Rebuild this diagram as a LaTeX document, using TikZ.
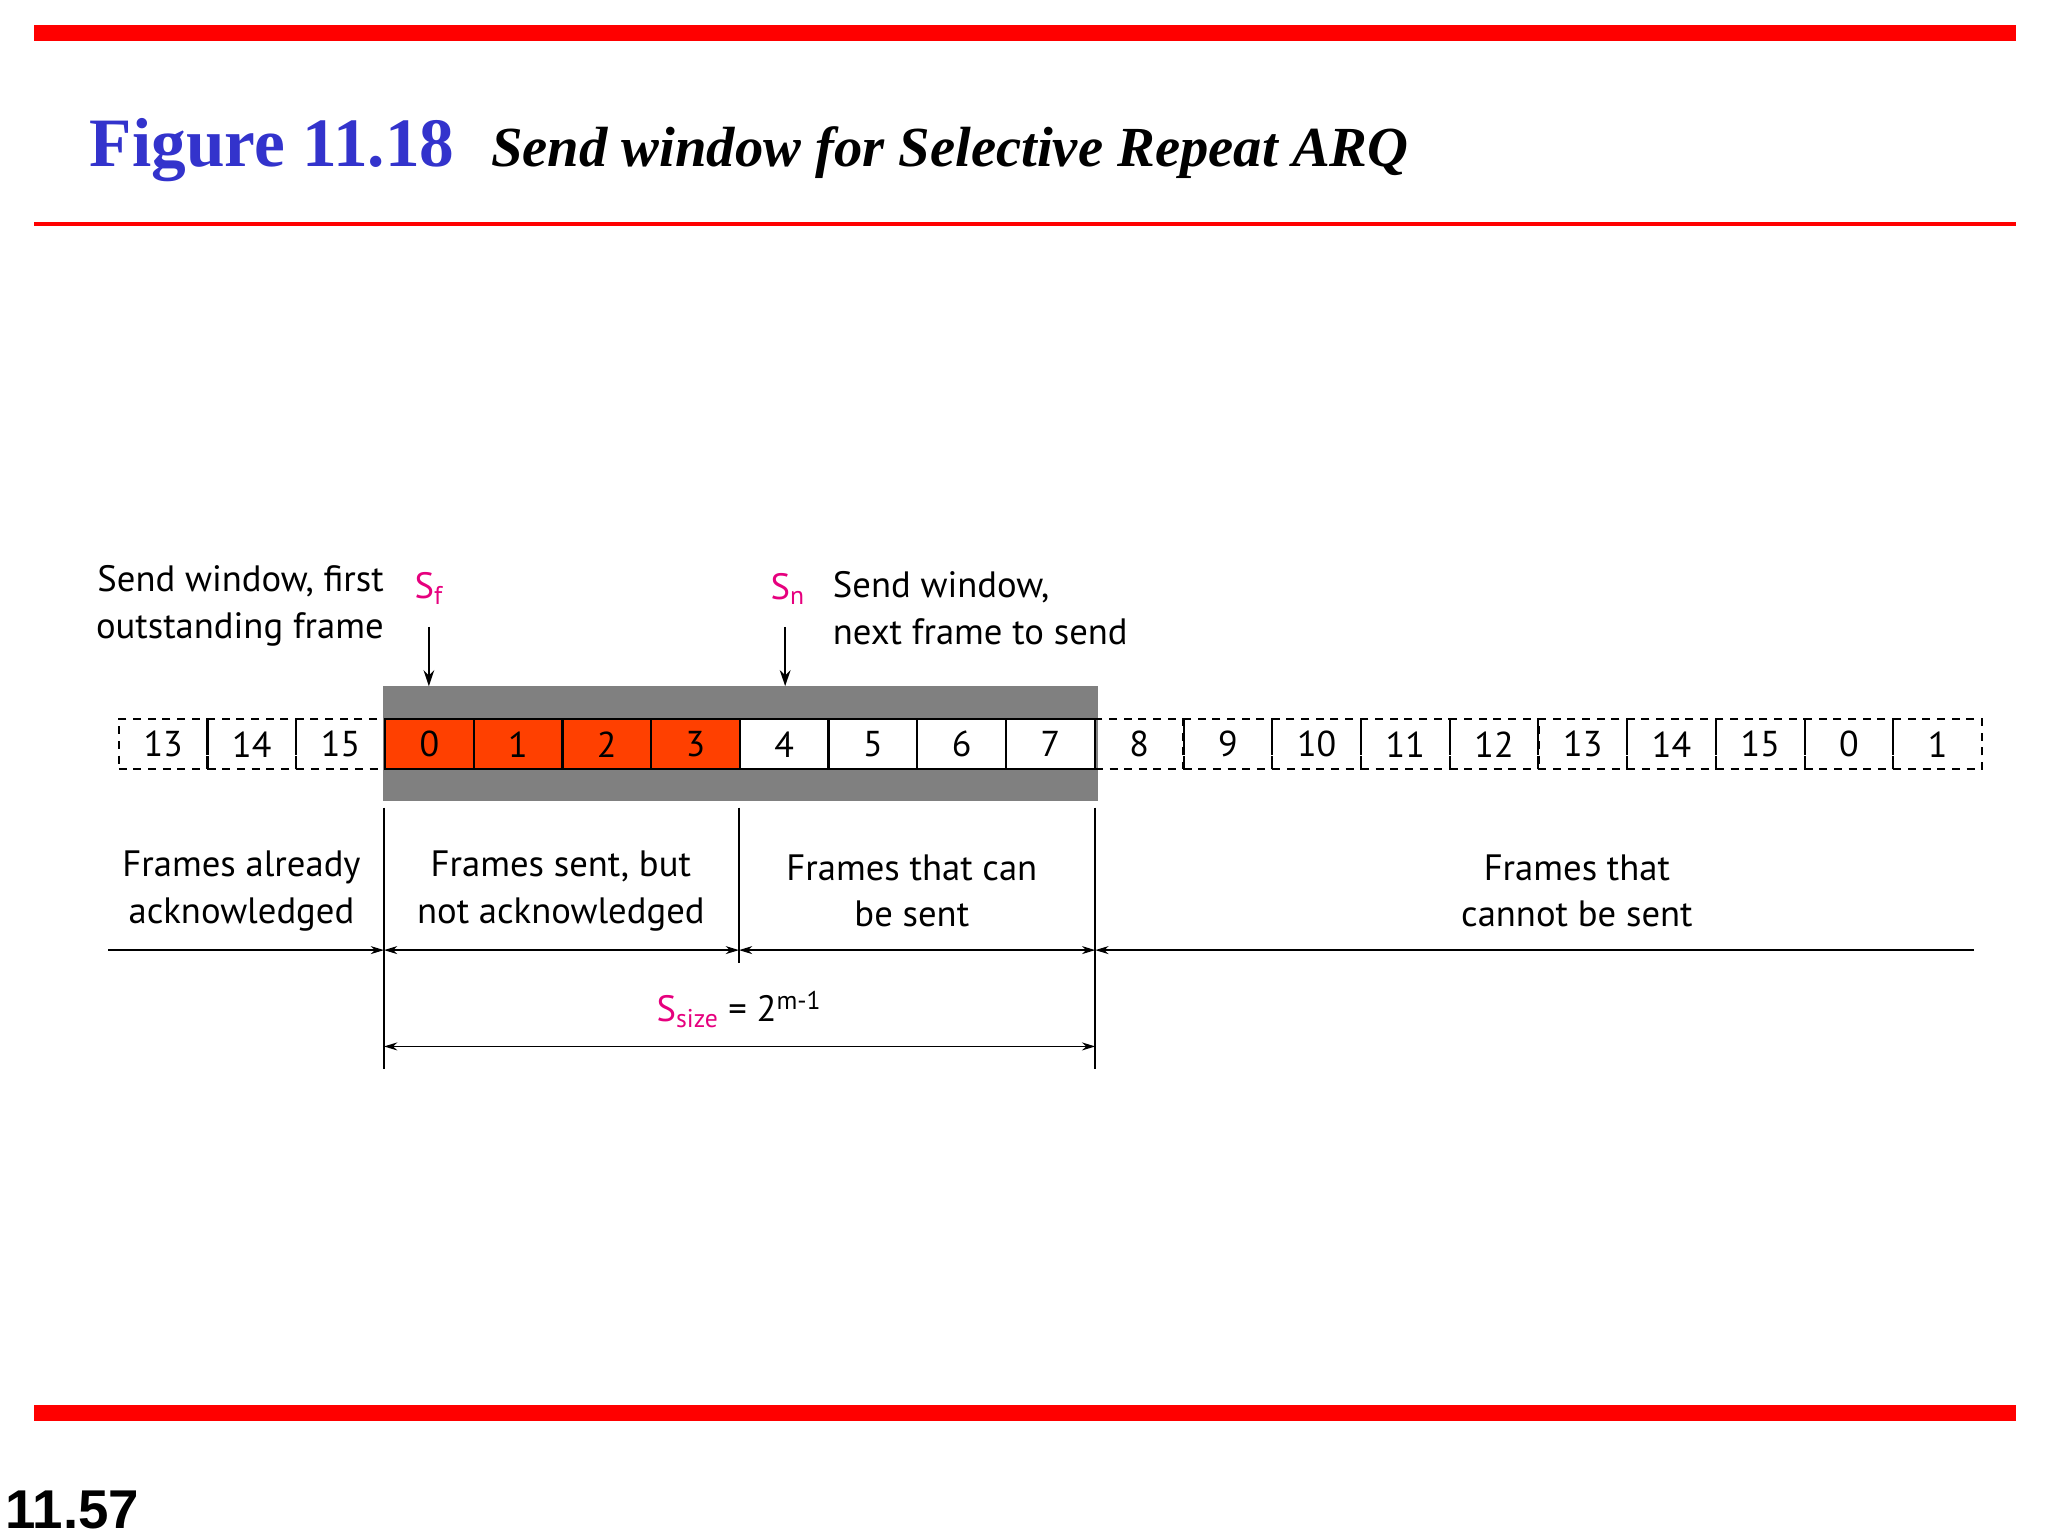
\documentclass[tikz,border=0pt]{standalone}
\usepackage{fontspec}
\setmainfont{Liberation Serif}
\newfontfamily\body{PT Sans}
\newfontfamily\num{Liberation Sans}
\usetikzlibrary{arrows.meta}
\definecolor{redl}{RGB}{255,0,0}
\definecolor{titleblue}{RGB}{51,51,204}
\definecolor{orng}{RGB}{255,64,0}
\definecolor{mag}{RGB}{230,0,126}
\definecolor{band}{RGB}{128,128,128}
\tikzset{
 lbl/.style={font=\body\fontsize{27.5}{35}\selectfont,align=center,inner sep=0},
 cellsolid/.style={draw=black,line width=1.6pt,minimum width=66.5pt,minimum height=37.6pt,inner sep=0,font=\body\fontsize{27}{30}\selectfont},
 celldash/.style={cellsolid,dash pattern=on 6pt off 5pt},
 dim/.style={line width=1.2pt,{Stealth[length=10pt,width=6pt]}-{Stealth[length=10pt,width=6pt]}},
 dimr/.style={line width=1.2pt,-{Stealth[length=10pt,width=6pt]}},
 ptr/.style={line width=1.8pt,-{Stealth[length=12pt,width=8pt]}},
 vl/.style={line width=1.2pt},
}
\begin{document}
\begin{tikzpicture}[x=0.99pt,y=-0.99pt]
\useasboundingbox (0,0) rectangle (1552,1164);
\fill[redl] (26,19) rectangle (1528,31);
\fill[redl] (26,168.5) rectangle (1528,171.5);
\fill[redl] (26,1065) rectangle (1528,1077);
\node[anchor=base west,inner sep=0,text=titleblue,font=\bfseries\fontsize{52}{52}\selectfont] (fig) at (68,126) {Figure 11.18};
\node[anchor=base west,inner sep=0,font=\bfseries\itshape\fontsize{42.5}{42}\selectfont] (ttl) at (372,126) {Send window for Selective Repeat ARQ};
\node[anchor=base west,inner sep=0,font=\num\bfseries\fontsize{41}{40}\selectfont] (pg) at (4,1158) {11.57};
\fill[band] (290,520) rectangle (832,607);
\foreach \lab [count=\i from 0] in {13,14,15,0,1,2,3,4,5,6,7,8,9,10,11,12,13,14,15,0,1}{
  \pgfmathsetmacro\cx{90+67.24*\i+33.62}
  \ifnum\i<3 \node[celldash] (c\i) at (\cx,564) {\lab};
  \else\ifnum\i<7 \node[cellsolid,fill=orng] (c\i) at (\cx,564) {\lab};
  \else\ifnum\i<11 \node[cellsolid,fill=white] (c\i) at (\cx,564) {\lab};
  \else \node[celldash] (c\i) at (\cx,564) {\lab};
  \fi\fi\fi
}
\node[lbl,text=mag] (sf) at (325,446) {S\textsubscript{f}};
\node[lbl,text=mag] (sn) at (597,446) {S\textsubscript{n}};
\coordinate (sfa) at (325,475); \coordinate (sfb) at (325,520);
\coordinate (sna) at (595,475); \coordinate (snb) at (595,520);
\draw[ptr] (sfa) -- (sfb);
\draw[ptr] (sna) -- (snb);
\node[lbl,anchor=east,align=right] (t1) at (291,459) {Send window, first\\outstanding frame};
\node[lbl,anchor=west,align=left] (t2) at (631,461) {Send window,\\next frame to send};
\coordinate (v1t) at (291,612); \coordinate (v1b) at (291,810);
\coordinate (v2t) at (560,612); \coordinate (v2b) at (560,730);
\coordinate (v3t) at (830,612); \coordinate (v3b) at (830,810);
\draw[vl] (v1t) -- (v1b); \draw[vl] (v2t) -- (v2b); \draw[vl] (v3t) -- (v3b);
\coordinate (a0) at (82,720); \coordinate (a1) at (291,720); \coordinate (a2) at (560,720);
\coordinate (a3) at (830,720); \coordinate (a4) at (1496,720);
\draw[dimr] (a0) -- (a1);
\draw[dim] (a1) -- (a2);
\draw[dim] (a2) -- (a3);
\draw[dimr] (a4) -- (a3);
\coordinate (b1) at (291,793); \coordinate (b2) at (830,793);
\draw[dim] (b1) -- (b2);
\node[lbl] (l1) at (183,675) {Frames already\\acknowledged};
\node[lbl] (l2) at (425,675) {Frames sent, but\\not acknowledged};
\node[lbl] (l3) at (691,675) {Frames that can\\be sent};
\node[lbl] (l4) at (1195,675) {Frames that\\cannot be sent};
\node[lbl] (ss) at (560,765) {\textcolor{mag}{S\textsubscript{size}} = 2\textsuperscript{m-1}};
\end{tikzpicture}
\end{document}
